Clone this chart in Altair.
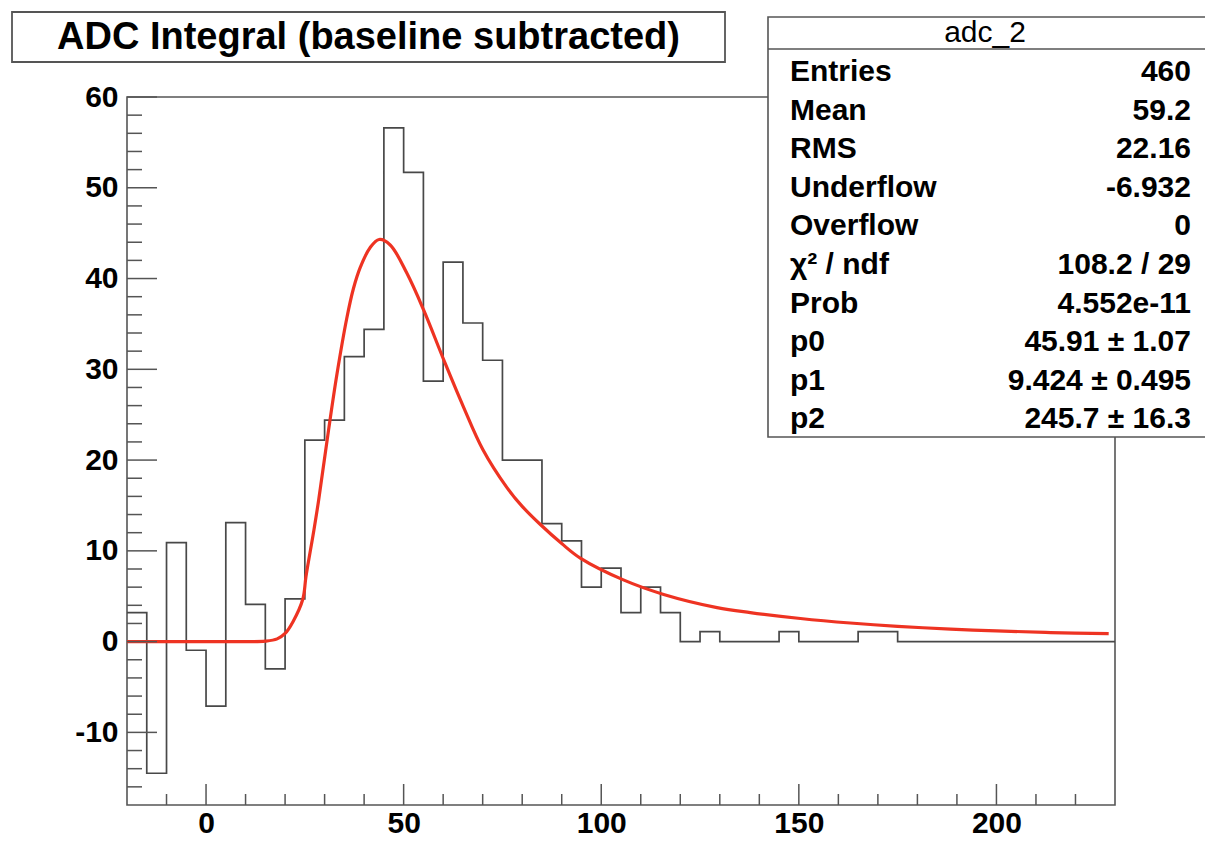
import altair as alt
import pandas as pd

# ---------------- data ----------------
bin_left = list(range(-20, 230, 5))  # 50 bins of width 5, range -20..230
bin_content = [3.2, -14.5, 10.9, -0.95, -7.1, 13.1, 4.1, -3.0, 4.7, 22.2,
               24.4, 31.4, 34.4, 56.6, 51.7, 28.7, 41.8, 35.1, 31.0, 20.0,
               20.0, 13.0, 11.1, 6.0, 8.1, 3.2, 6.0, 3.2, 0.0, 1.1,
               0.0, 0.0, 0.0, 1.1, 0.0, 0.0, 0.0, 1.1, 1.1, 0.0,
               0.0, 0.0, 0.0, 0.0, 0.0, 0.0, 0.0, 0.0, 0.0, 0.0]
x_max = 230

fit_x = [-20, 0, 10, 15, 18, 20, 22, 24.5, 25.3, 27.3, 28.5, 31, 33.1, 35.6,
         37.3, 39, 41.5, 43.8, 46.6, 50.8, 55, 60.1, 65.1, 70, 76.1, 80, 84.6,
         90, 94.7, 105.6, 115.8, 129.3, 137.7, 150.4, 163, 175, 188.4, 200,
         213.7, 228.4]
fit_y = [0, 0, 0, 0.05, 0.3, 0.9, 2.2, 4.7, 7.2, 12.3, 15.6, 23.3, 29.4, 35.6,
         38.9, 41.2, 43.4, 44.3, 43.7, 40.6, 36.6, 31.1, 25.9, 21.2, 17.0, 14.9,
         12.9, 10.8, 9.2, 6.8, 5.2, 3.75, 3.2, 2.55, 2.05, 1.68, 1.38, 1.18,
         1.0, 0.87]

x_major = [0, 50, 100, 150, 200]
x_minor = [-10, 10, 20, 30, 40, 60, 70, 80, 90, 110, 120, 130, 140, 160, 170,
           180, 190, 210, 220]
y_major = [-10, 0, 10, 20, 30, 40, 50, 60]
y_minor = [-16, -14, -12, -8, -6, -4, -2, 2, 4, 6, 8, 12, 14, 16, 18, 22, 24,
           26, 28, 32, 34, 36, 38, 42, 44, 46, 48, 52, 54, 56, 58]

title_text = "ADC Integral (baseline subtracted)"
stats_title = "adc_2"
stat_names = ["Entries", "Mean", "RMS", "Underflow", "Overflow", "χ² / ndf",
              "Prob", "p0", "p1", "p2"]
stat_values = ["460", "59.2", "22.16", "-6.932", "0", "108.2 / 29",
               "4.552e-11", "45.91 ± 1.07", "9.424 ± 0.495", "245.7 ± 16.3"]

# ---------------- layout / style ----------------
W, H = 988, 708
FONT = "Liberation Sans"
FRAME = "#555555"
HIST = "#484848"
RED = "#ee3322"

hyphen_label = "datum.value < 0 ? '-' + abs(datum.value) : '' + datum.value"

xscale = alt.Scale(domain=[-20, 230], nice=False, zero=False)
yscale = alt.Scale(domain=[-18, 60], nice=False, zero=False)
xaxis = alt.Axis(values=x_major, ticks=False, domain=False, grid=False,
                 labelFontSize=30, labelFontWeight="bold", labelFont=FONT,
                 labelColor="black", labelPadding=3, title=None,
                 labelExpr=hyphen_label)
yaxis = alt.Axis(values=y_major, ticks=False, domain=False, grid=False,
                 labelFontSize=30, labelFontWeight="bold", labelFont=FONT,
                 labelColor="black", labelPadding=9, title=None,
                 labelExpr=hyphen_label)


def X(field):
    return alt.X(field, type="quantitative", scale=xscale, axis=xaxis)


def Y(field):
    return alt.Y(field, type="quantitative", scale=yscale, axis=yaxis)


one = pd.DataFrame({"k": [0]})

hist_df = pd.DataFrame({"x": bin_left + [x_max],
                        "y": bin_content + [bin_content[-1]]})
fit_df = pd.DataFrame({"x": fit_x, "y": fit_y})

frame = alt.Chart(one).mark_rect(filled=False, stroke=FRAME, strokeWidth=1.6).encode(
    x=alt.value(0), x2=alt.value(W), y=alt.value(0), y2=alt.value(H))

hist = alt.Chart(hist_df).mark_line(interpolate="step-after", color=HIST,
                                    strokeWidth=1.7).encode(x=X("x"), y=Y("y"))

fit = alt.Chart(fit_df).mark_line(interpolate="catmull-rom", color=RED,
                                  strokeWidth=3.2).encode(x=X("x"), y=Y("y"))

xt_major = alt.Chart(pd.DataFrame({"v": x_major})).mark_rule(
    color=FRAME, strokeWidth=1.5).encode(x=X("v"), y=alt.value(H), y2=alt.value(H - 21))
xt_minor = alt.Chart(pd.DataFrame({"v": x_minor})).mark_rule(
    color=FRAME, strokeWidth=1.5).encode(x=X("v"), y=alt.value(H), y2=alt.value(H - 11))
yt_major = alt.Chart(pd.DataFrame({"v": y_major})).mark_rule(
    color=FRAME, strokeWidth=1.5).encode(y=Y("v"), x=alt.value(0), x2=alt.value(30))
yt_minor = alt.Chart(pd.DataFrame({"v": y_minor})).mark_rule(
    color=FRAME, strokeWidth=1.5).encode(y=Y("v"), x=alt.value(0), x2=alt.value(15))

# stats box
SX0, SX1, SY0, SY1 = 641, 1110, -80, 340
stats_box = alt.Chart(one).mark_rect(fill="white", stroke=FRAME, strokeWidth=1.6).encode(
    x=alt.value(SX0), x2=alt.value(SX1), y=alt.value(SY0), y2=alt.value(SY1))
stats_sep = alt.Chart(one).mark_rule(color=FRAME, strokeWidth=1.6).encode(
    x=alt.value(SX0), x2=alt.value(SX1), y=alt.value(-48))
stats_head = alt.Chart(one).mark_text(text=stats_title, font=FONT, fontSize=30,
                                      align="center", baseline="middle",
                                      color="black").encode(
    x=alt.value(858), y=alt.value(-64))

row_layers = []
for i, (nm, vl) in enumerate(zip(stat_names, stat_values)):
    py = -25 + i * 38.6
    row_layers.append(alt.Chart(one).mark_text(
        text=nm, font=FONT, fontSize=30, fontWeight="bold", align="left",
        baseline="middle", color="black").encode(x=alt.value(663), y=alt.value(py)))
    row_layers.append(alt.Chart(one).mark_text(
        text=vl, font=FONT, fontSize=30, fontWeight="bold", align="right",
        baseline="middle", color="black").encode(x=alt.value(1064), y=alt.value(py)))

# title box
title_box = alt.Chart(one).mark_rect(fill="white", stroke=FRAME, strokeWidth=1.8).encode(
    x=alt.value(-115), x2=alt.value(598), y=alt.value(-85), y2=alt.value(-35))
title = alt.Chart(one).mark_text(text=title_text, font=FONT, fontSize=38,
                                 fontWeight="bold", align="center",
                                 baseline="middle", color="black").encode(
    x=alt.value(241.5), y=alt.value(-59))

chart = alt.layer(
    frame, hist, fit, xt_major, xt_minor, yt_major, yt_minor,
    stats_box, stats_sep, stats_head, *row_layers, title_box, title
).properties(
    width=W, height=H,
    autosize=alt.AutoSizeParams(type="none"),
    padding={"left": 127, "top": 97, "right": 90, "bottom": 42},
    background="white",
).configure_view(strokeWidth=0)

chart.save("out.html", embed_options={"renderer": "svg", "actions": False})
